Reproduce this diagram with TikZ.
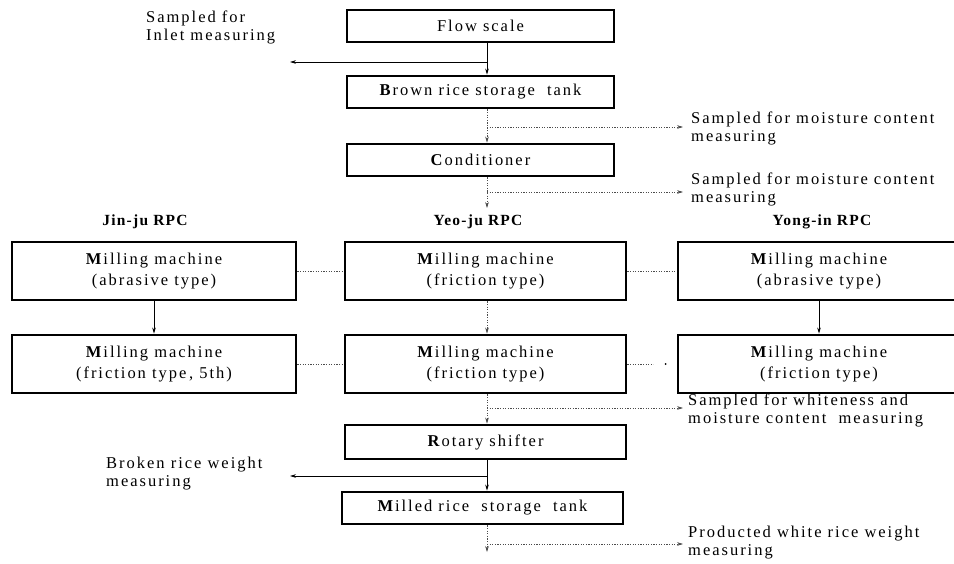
\documentclass[tikz,border=0pt]{standalone}
\usepackage{fontspec}
\setmainfont{Liberation Serif}
\newfontfamily\lblfont{Liberation Serif}[LetterSpace=12]
\newfontfamily\hdrfont{Liberation Serif}[LetterSpace=8]
\usetikzlibrary{arrows.meta,calc}
\begin{document}
\begin{tikzpicture}[x=1pt,y=-1pt,
  box/.style={draw, line width=2.8pt, inner sep=0pt, align=center,
    font=\lblfont\fontsize{16.5}{20.5}\selectfont},
  onebox/.style={box, minimum width=267pt, minimum height=32pt},
  twobox/.style={box, minimum width=#1, minimum height=58pt},
  lbl/.style={anchor=west, align=left, inner sep=0pt,
    font=\lblfont\fontsize{16.5}{18}\selectfont},
  hdr/.style={inner sep=0pt, font=\hdrfont\bfseries\fontsize{15.5}{17}\selectfont},
  solidln/.style={line width=0.8pt},
  dotln/.style={line width=0.6pt, black!70, dash pattern=on 1.2pt off 1.4pt},
  tip/.style={-{Stealth[length=6pt,width=3.6pt]}}
]
\useasboundingbox (0,0) rectangle (954,563);
\clip (0,0) rectangle (954,563);

% main column boxes
\node[onebox] (flow) at (480.5,26) {Flow scale};
\node[onebox] (brown) at (480.5,92) {\textbf{B}rown rice storage\ \ tank};
\node[onebox] (cond) at (480.5,160) {\textbf{C}onditioner};

% headers
\node[hdr] (jinh) at (145,222) {Jin-ju RPC};
\node[hdr] (yeoh) at (478,222) {Yeo-ju RPC};
\node[hdr] (yongh) at (822,222) {Yong-in RPC};

% milling rows
\node[twobox=284pt] (jin1) at (154,271) {\textbf{M}illing machine\\(abrasive type)};
\node[twobox=281pt] (yeo1) at (485.5,271) {\textbf{M}illing machine\\(friction type)};
\node[twobox=282pt] (yong1) at (819,271) {\textbf{M}illing machine\\(abrasive type)};
\node[twobox=284pt] (jin2) at (154,364) {\textbf{M}illing machine\\(friction type\,, 5th)};
\node[twobox=281pt] (yeo2) at (485.5,364) {\textbf{M}illing machine\\(friction type)};
\node[twobox=282pt] (yong2) at (819,364) {\textbf{M}illing machine\\(friction type)};

\node[box, minimum width=281pt, minimum height=34pt] (rot) at (485.5,442) {\textbf{R}otary shifter};
\node[box, minimum width=281pt, minimum height=32pt] (mill) at (482.5,508) {\textbf{M}illed rice\ \ storage\ \ tank};

% side labels
\node[lbl] (inlet) at (146,27) {Sampled for\\Inlet measuring};
\node[lbl] (moist1) at (691,128) {Sampled for moisture content\\measuring};
\node[lbl] (moist2) at (691,189) {Sampled for moisture content\\measuring};
\node[lbl] (white) at (688,410) {Sampled for whiteness and\\moisture content\ \ measuring};
\node[lbl] (broken) at (106,474) {Broken rice weight\\measuring};
\node[lbl] (prod) at (688,543) {Producted white rice weight\\measuring};

% column x
\coordinate (cx) at (487,0);
\coordinate (jx) at (154,0);
\coordinate (rx) at (819,0);

% branch points and free ends
\coordinate (p1) at (487,62);   \coordinate (e1) at (290,62);
\coordinate (p2) at (487,127);  \coordinate (e2) at (683,127);
\coordinate (p3) at (487,192);  \coordinate (e3) at (683,192);
\coordinate (a3) at (487,208);
\coordinate (p5) at (487,408);  \coordinate (e5) at (683,408);
\coordinate (p6) at (487,476);  \coordinate (e6) at (290,476);
\coordinate (p7) at (487,544);  \coordinate (e7) at (683,544);
\coordinate (a7) at (487,552);

% flow scale -> brown rice
\draw[solidln,tip] (flow.south -| cx) -- (brown.north -| cx);
\draw[solidln,tip] (p1) -- (e1);

% brown -> conditioner
\draw[dotln,tip] (brown.south -| cx) -- (cond.north -| cx);
\draw[dotln,tip] (p2) -- (e2);

% conditioner -> RPCs
\draw[dotln,tip] (cond.south -| cx) -- (a3);
\draw[dotln,tip] (p3) -- (e3);

% parallel lines
\draw[dotln] (jin1.east) -- (yeo1.west);
\draw[dotln] (yeo1.east) -- (yong1.west);
\draw[dotln] (jin2.east) -- (yeo2.west);
\draw[dotln] (yeo2.east) -- ($(yeo2.east)+(26,0)$);
\fill ($(yong2.west)+(-11,0)$) circle (1pt);

% vertical milling arrows
\draw[solidln,tip] (jin1.south -| jx) -- (jin2.north -| jx);
\draw[dotln,tip] (yeo1.south -| cx) -- (yeo2.north -| cx);
\draw[solidln,tip] (yong1.south -| rx) -- (yong2.north -| rx);

% to rotary shifter
\draw[dotln,tip] (yeo2.south -| cx) -- (rot.north -| cx);
\draw[dotln,tip] (p5) -- (e5);

% rotary -> milled rice
\draw[solidln,tip] (rot.south -| cx) -- (mill.north -| cx);
\draw[solidln,tip] (p6) -- (e6);

% out of milled rice tank
\draw[dotln,tip] (mill.south -| cx) -- (a7);
\draw[dotln,tip] (p7) -- (e7);
\end{tikzpicture}
\end{document}
